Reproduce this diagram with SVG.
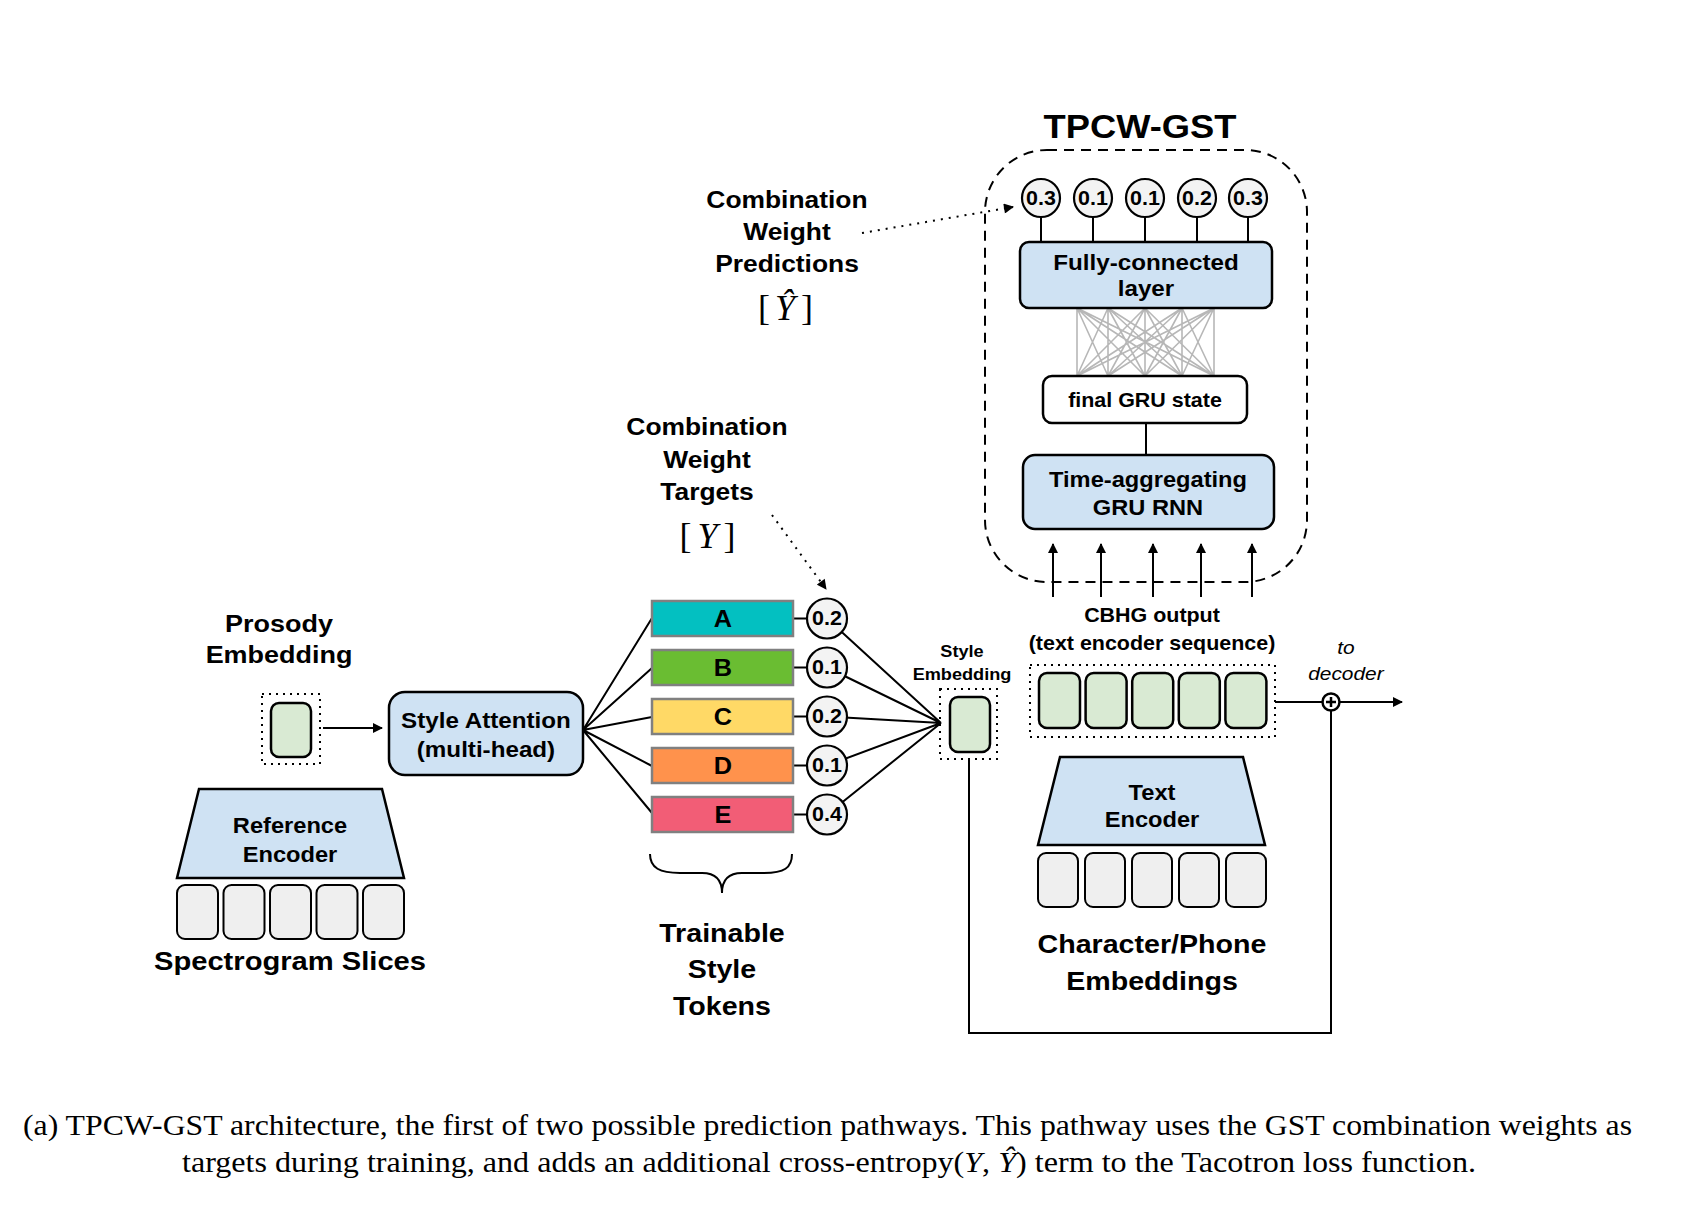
<svg xmlns="http://www.w3.org/2000/svg" width="1686" height="1212" viewBox="0 0 1686 1212">
<style>
.t{font-family:"Liberation Sans",Arial,sans-serif;font-weight:bold;fill:#000;text-anchor:middle}
.it{font-family:"Liberation Sans",Arial,sans-serif;font-style:italic;fill:#000;text-anchor:middle}
.sx{transform-box:fill-box;transform-origin:center;transform:scaleX(1.1)}
.m{font-family:"Liberation Serif","Times New Roman",serif;fill:#000;text-anchor:middle}
.cap{font-family:"Liberation Serif","Times New Roman",serif;font-size:30px;fill:#000}
.blue{fill:#cfe2f3;stroke:#000;stroke-width:2.5}
.green{fill:#d9ead3;stroke:#000;stroke-width:2.5}
.gray{fill:#efefef;stroke:#000;stroke-width:2}
.circ{fill:#f3f3f3;stroke:#000;stroke-width:2.2}
.dots{fill:none;stroke:#000;stroke-width:2;stroke-dasharray:2 5}
.bar{stroke:#808080;stroke-width:2.5}
.ln{fill:none;stroke:#000;stroke-width:2}
.dl{fill:none;stroke:#000;stroke-width:2;stroke-dasharray:2 6}
.mesh{fill:none;stroke:#b7b7b7;stroke-width:1.6}
</style>
<defs>
<marker id="ah" viewBox="0 0 10 10" refX="9" refY="5" markerWidth="12" markerHeight="10" markerUnits="userSpaceOnUse" orient="auto">
<path d="M0,0 L10,5 L0,10 z" fill="#000"/>
</marker>
</defs>

<!-- connectors -->
<g id="connectors">
<path class="mesh" d="M1077,308 L1077,376 M1077,308 L1108,376 M1077,308 L1145,376 M1077,308 L1182,376 M1077,308 L1214,376
M1108,308 L1077,376 M1108,308 L1108,376 M1108,308 L1145,376 M1108,308 L1182,376 M1108,308 L1214,376
M1145,308 L1077,376 M1145,308 L1108,376 M1145,308 L1145,376 M1145,308 L1182,376 M1145,308 L1214,376
M1182,308 L1077,376 M1182,308 L1108,376 M1182,308 L1145,376 M1182,308 L1182,376 M1182,308 L1214,376
M1214,308 L1077,376 M1214,308 L1108,376 M1214,308 L1145,376 M1214,308 L1182,376 M1214,308 L1214,376"/>
<path class="ln" d="M1041,215 V242 M1093,215 V242 M1145,215 V242 M1197,215 V242 M1248,215 V242"/>
<path class="ln" d="M1146,423 V455"/>
<line class="ln" x1="1053" y1="597" x2="1053" y2="544" marker-end="url(#ah)"/>
<line class="ln" x1="1101" y1="597" x2="1101" y2="544" marker-end="url(#ah)"/>
<line class="ln" x1="1153" y1="597" x2="1153" y2="544" marker-end="url(#ah)"/>
<line class="ln" x1="1201" y1="597" x2="1201" y2="544" marker-end="url(#ah)"/>
<line class="ln" x1="1252" y1="597" x2="1252" y2="544" marker-end="url(#ah)"/>
<line class="dl" x1="862" y1="233" x2="1013" y2="207" marker-end="url(#ah)"/>
<line class="dl" x1="772" y1="515" x2="826" y2="589" marker-end="url(#ah)"/>
<line class="ln" x1="323" y1="728" x2="382" y2="728" marker-end="url(#ah)"/>
<path class="ln" d="M583,730 L652,618 M583,730 L652,668 M583,730 L652,717 M583,730 L652,766 M583,730 L652,813"/>
<path class="ln" d="M793,618.5 H808 M793,667.5 H808 M793,716.5 H808 M793,765.5 H808 M793,814.5 H808"/>
<path class="ln" d="M827,618.5 L941,723 M827,667.5 L941,723 M827,716.5 L941,723 M827,765.5 L941,723 M827,814.5 L941,723"/>
<path class="ln" d="M1275,702 H1322.5"/>
<line class="ln" x1="1339.5" y1="702" x2="1402" y2="702" marker-end="url(#ah)"/>
<path class="ln" d="M969,759 V1033 H1331 V710.5"/>
</g>

<!-- GST box -->
<g id="tpcw-gst">
<text class="t sx" x="1140" y="138" font-size="33">TPCW-GST</text>
<rect x="985" y="150" width="322" height="432" rx="62" fill="none" stroke="#000" stroke-width="2" stroke-dasharray="10 7"/>
</g>

<g id="pred-weights">
<g id="p1"><circle class="circ" cx="1041" cy="198" r="19"/><text class="t sx" x="1041" y="205" font-size="19.5">0.3</text></g>
<g id="p2"><circle class="circ" cx="1093" cy="198" r="19"/><text class="t sx" x="1093" y="205" font-size="19.5">0.1</text></g>
<g id="p3"><circle class="circ" cx="1145" cy="198" r="19"/><text class="t sx" x="1145" y="205" font-size="19.5">0.1</text></g>
<g id="p4"><circle class="circ" cx="1197" cy="198" r="19"/><text class="t sx" x="1197" y="205" font-size="19.5">0.2</text></g>
<g id="p5"><circle class="circ" cx="1248" cy="198" r="19"/><text class="t sx" x="1248" y="205" font-size="19.5">0.3</text></g>
</g>

<g id="fc-layer">
<rect class="blue" x="1020" y="242" width="252" height="66" rx="9"/>
<text class="t sx" x="1146" y="270" font-size="22">Fully-connected<tspan x="1146" y="296">layer</tspan></text>
</g>

<g id="final-gru">
<rect x="1043" y="376" width="204" height="47" rx="9" fill="#fff" stroke="#000" stroke-width="2.5"/>
<text class="t sx" x="1145" y="407" font-size="19.5">final GRU state</text>
</g>

<g id="gru-rnn">
<rect class="blue" x="1023" y="455" width="251" height="74" rx="12"/>
<text class="t sx" x="1148" y="487" font-size="21.5">Time-aggregating<tspan x="1148" y="515">GRU RNN</tspan></text>
</g>

<g id="pred-label">
<text class="t sx" x="787" y="208" font-size="24">Combination<tspan x="787" y="240">Weight</tspan><tspan x="787" y="272">Predictions</tspan></text>
<text class="m" x="764" y="320" font-size="36">[</text>
<text class="m" x="785" y="320" font-size="36" font-style="italic">Ŷ</text>
<text class="m" x="807" y="320" font-size="36">]</text>
</g>

<g id="target-label">
<text class="t sx" x="707" y="435" font-size="24">Combination<tspan x="707" y="468">Weight</tspan><tspan x="707" y="500">Targets</tspan></text>
<text class="m" x="685.5" y="548" font-size="36">[</text>
<text class="m" x="707.5" y="548" font-size="36" font-style="italic">Y</text>
<text class="m" x="729.5" y="548" font-size="36">]</text>
</g>

<!-- tokens -->
<g id="token-a"><rect class="bar" x="652" y="601" width="141" height="35" fill="#03c0c1"/><text class="t sx" x="723" y="627" font-size="23">A</text></g>
<g id="token-b"><rect class="bar" x="652" y="650" width="141" height="35" fill="#6abd32"/><text class="t sx" x="723" y="676" font-size="23">B</text></g>
<g id="token-c"><rect class="bar" x="652" y="699" width="141" height="35" fill="#ffd966"/><text class="t sx" x="723" y="725" font-size="23">C</text></g>
<g id="token-d"><rect class="bar" x="652" y="748" width="141" height="35" fill="#ff924c"/><text class="t sx" x="723" y="774" font-size="23">D</text></g>
<g id="token-e"><rect class="bar" x="652" y="797" width="141" height="35" fill="#f25d76"/><text class="t sx" x="723" y="823" font-size="23">E</text></g>

<g id="w-a"><circle class="circ" cx="827" cy="618.5" r="20"/><text class="t sx" x="827" y="625.5" font-size="19.5">0.2</text></g>
<g id="w-b"><circle class="circ" cx="827" cy="667.5" r="20"/><text class="t sx" x="827" y="674.5" font-size="19.5">0.1</text></g>
<g id="w-c"><circle class="circ" cx="827" cy="716.5" r="20"/><text class="t sx" x="827" y="723.5" font-size="19.5">0.2</text></g>
<g id="w-d"><circle class="circ" cx="827" cy="765.5" r="20"/><text class="t sx" x="827" y="772.5" font-size="19.5">0.1</text></g>
<g id="w-e"><circle class="circ" cx="827" cy="814.5" r="20"/><text class="t sx" x="827" y="821.5" font-size="19.5">0.4</text></g>

<g id="style-tokens">
<path class="ln" d="M650,854 C650,868 660,873 680,873 L702,873 C715,873 722,880 722,893 C722,880 729,873 742,873 L764,873 C784,873 792,868 792,854"/>
<text class="t sx" x="722" y="942" font-size="26">Trainable<tspan x="722" y="978">Style</tspan><tspan x="722" y="1015">Tokens</tspan></text>
</g>

<g id="style-attention">
<rect class="blue" x="389" y="692" width="194" height="83" rx="16"/>
<text class="t sx" x="486" y="728" font-size="22">Style Attention<tspan x="486" y="757">(multi-head)</tspan></text>
</g>

<g id="prosody-embedding">
<text class="t sx" x="279" y="632" font-size="24.5">Prosody<tspan x="279" y="663">Embedding</tspan></text>
<rect class="dots" x="262" y="694" width="58" height="70"/>
<rect class="green" x="271" y="703" width="40" height="54" rx="8"/>
</g>

<g id="reference-encoder">
<polygon class="blue" points="199,789 382,789 404,878 177,878" stroke-width="2"/>
<text class="t sx" x="290" y="833" font-size="21.5">Reference<tspan x="290" y="862">Encoder</tspan></text>
</g>

<g id="spectrogram-slices">
<rect class="gray" x="177" y="885" width="41" height="54" rx="8"/>
<rect class="gray" x="223.5" y="885" width="41" height="54" rx="8"/>
<rect class="gray" x="270" y="885" width="41" height="54" rx="8"/>
<rect class="gray" x="316.5" y="885" width="41" height="54" rx="8"/>
<rect class="gray" x="363" y="885" width="41" height="54" rx="8"/>
<text class="t sx" x="290" y="970" font-size="26.5">Spectrogram Slices</text>
</g>

<g id="style-embedding">
<text class="t sx" x="962" y="657" font-size="16.5">Style<tspan x="962" y="680">Embedding</tspan></text>
<rect class="dots" x="940" y="689" width="57" height="70"/>
<rect class="green" x="950" y="697" width="40" height="55" rx="8"/>
</g>

<g id="cbhg-output">
<text class="t sx" x="1152" y="622" font-size="19.5">CBHG output<tspan x="1152" y="650">(text encoder sequence)</tspan></text>
<rect class="dots" x="1030" y="665" width="245" height="72"/>
<rect class="green" x="1039" y="673" width="41" height="55" rx="8"/>
<rect class="green" x="1085.6" y="673" width="41" height="55" rx="8"/>
<rect class="green" x="1132.2" y="673" width="41" height="55" rx="8"/>
<rect class="green" x="1178.8" y="673" width="41" height="55" rx="8"/>
<rect class="green" x="1225.4" y="673" width="41" height="55" rx="8"/>
</g>

<g id="text-encoder">
<polygon class="blue" points="1060,757 1243,757 1265,845 1038,845" stroke-width="2"/>
<text class="t sx" x="1152" y="800" font-size="21.5">Text<tspan x="1152" y="827">Encoder</tspan></text>
</g>

<g id="char-embeddings">
<rect class="gray" x="1038" y="853" width="40" height="54" rx="8"/>
<rect class="gray" x="1085" y="853" width="40" height="54" rx="8"/>
<rect class="gray" x="1132" y="853" width="40" height="54" rx="8"/>
<rect class="gray" x="1179" y="853" width="40" height="54" rx="8"/>
<rect class="gray" x="1226" y="853" width="40" height="54" rx="8"/>
<text class="t sx" x="1152" y="953" font-size="26">Character/Phone<tspan x="1152" y="990">Embeddings</tspan></text>
</g>

<g id="sum">
<circle cx="1331" cy="702" r="8.5" fill="#fff" stroke="#000" stroke-width="2.5"/>
<path d="M1326,702 H1336 M1331,697 V707" stroke="#000" stroke-width="2.5"/>
</g>

<g id="to-decoder">
<text class="it sx" x="1346" y="654" font-size="19">to<tspan x="1346" y="680">decoder</tspan></text>
</g>

<g id="caption">
<text class="cap" x="23" y="1135" textLength="1609" lengthAdjust="spacingAndGlyphs">(a) TPCW-GST architecture, the first of two possible prediction pathways. This pathway uses the GST combination weights as</text>
<text class="cap" x="182" y="1172" textLength="1294" lengthAdjust="spacingAndGlyphs">targets during training, and adds an additional cross-entropy(<tspan font-style="italic">Y</tspan>, <tspan font-style="italic">Ŷ</tspan>) term to the Tacotron loss function.</text>
</g>
</svg>
